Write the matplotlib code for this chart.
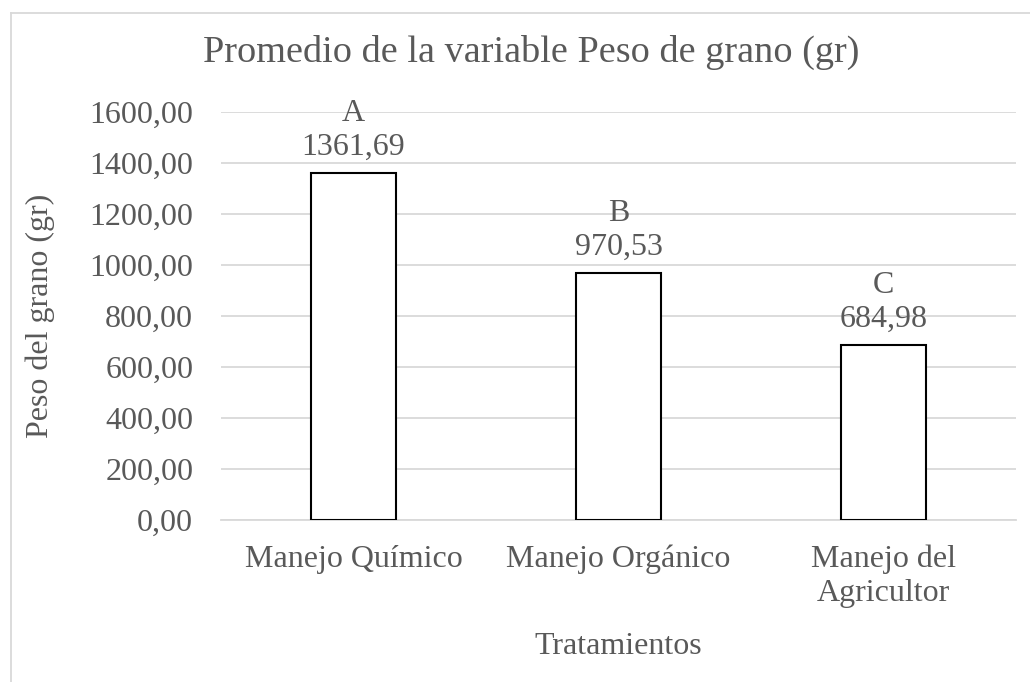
import matplotlib.pyplot as plt
from matplotlib.lines import Line2D

categories = ['Manejo Químico', 'Manejo Orgánico', 'Manejo del\nAgricultor']
values = [1361.69, 970.53, 684.98]
letters = ['A', 'B', 'C']
yticks = [0, 200, 400, 600, 800, 1000, 1200, 1400, 1600]

txt = '#595959'
plt.rcParams['font.family'] = ['Liberation Serif', 'DejaVu Serif']

fig = plt.figure(figsize=(10.3, 6.82), dpi=100)
ax = fig.add_axes([221/1030, 1 - 520/682, (1016-221)/1030, (520-112)/682])

x = list(range(len(categories)))
bars = ax.bar(x, values, width=0.317, color='white', edgecolor='black', linewidth=1.5, zorder=3)

for xi, v, l in zip(x, values, letters):
    lab = f'{v:.2f}'.replace('.', ',')
    ax.annotate(l + '\n' + lab, (xi, v), xytext=(0, 8), textcoords='offset points',
                ha='center', va='bottom', fontsize=23, color=txt, linespacing=1.22)

ax.set_xlim(-0.5, 2.5)
ax.set_ylim(0, 1600)
ax.set_yticks(yticks)
ax.set_yticklabels([f'{t:.2f}'.replace('.', ',') for t in yticks])
ax.set_xticks(x)
ax.set_xticklabels(categories, linespacing=1.2)
ax.grid(axis='y', color='#d9d9d9', linewidth=1.3, zorder=0)
for s in ['top', 'right', 'left']:
    ax.spines[s].set_visible(False)
ax.spines['bottom'].set_color('#d9d9d9')
ax.spines['bottom'].set_linewidth(1.3)
ax.tick_params(axis='both', length=0, labelsize=23, labelcolor=txt)
ax.tick_params(axis='y', pad=20)
ax.tick_params(axis='x', pad=18)

ax.set_xlabel('Tratamientos', fontsize=23, color=txt, labelpad=17)
fig.text(40/1030, 1 - 316/682, 'Peso del grano (gr)', rotation=90, ha='center', va='center',
         fontsize=23, color=txt)
fig.text(531/1030, 1 - 52/682, 'Promedio de la variable Peso de grano (gr)', ha='center',
         va='center', fontsize=27.5, color=txt)

fig.add_artist(Line2D([11/1030, 11/1030], [0, 1 - 13/682], color='#d9d9d9', linewidth=1.3))
fig.add_artist(Line2D([11/1030, 1], [1 - 13/682, 1 - 13/682], color='#d9d9d9', linewidth=1.3))

fig.savefig('out.png', dpi=100)
